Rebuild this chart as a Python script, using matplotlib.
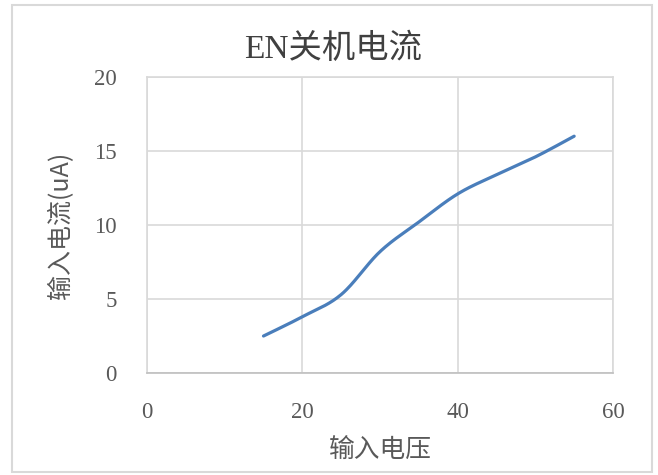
import numpy as np
import matplotlib.pyplot as plt
from matplotlib.patches import Rectangle

# ------------------------ data ------------------------
voltage = [15, 20, 25, 30, 35, 40, 45, 50, 55]
current = [2.5, 3.8, 5.3, 8.2, 10.2, 12.1, 13.4, 14.6, 16.0]

x_ticks = [0, 20, 40, 60]
y_ticks = [0, 5, 10, 15, 20]

title_txt = "EN关机电流"
x_label = "输入电压"
y_label = "输入电流(uA)"


def smooth_line(xs, ys, n=30):
    # Excel style smoothed line (Catmull-Rom through the points)
    xs = np.asarray(xs, float)
    ys = np.asarray(ys, float)
    px = np.concatenate([[xs[0]], xs, [xs[-1]]])
    py = np.concatenate([[ys[0]], ys, [ys[-1]]])
    out_x, out_y = [], []
    t = np.linspace(0, 1, n)
    for i in range(1, len(px) - 2):
        for p, out in ((px, out_x), (py, out_y)):
            p0, p1, p2, p3 = p[i - 1], p[i], p[i + 1], p[i + 2]
            c1 = p1 + (p2 - p0) / 6
            c2 = p2 - (p3 - p1) / 6
            seg = ((1 - t) ** 3 * p1 + 3 * (1 - t) ** 2 * t * c1
                   + 3 * (1 - t) * t ** 2 * c2 + t ** 3 * p2)
            out.extend(seg)
    return np.array(out_x), np.array(out_y)


grey = "#595959"
grid_c = "#d9d9d9"
serif_cjk = ["Liberation Serif", "Noto Sans CJK SC"]

fig = plt.figure(figsize=(6.58, 4.75), dpi=100)
ax = fig.add_axes([0.2234, 0.2147, 0.7082, 0.6232])

sx, sy = smooth_line(voltage, current)
ax.plot(sx, sy, color="#4a7ebb", lw=2.3, solid_capstyle="round", zorder=3)

ax.set_xlim(0, 60)
ax.set_ylim(0, 20)
ax.set_xticks(x_ticks)
ax.set_yticks(y_ticks)
ax.grid(True, color=grid_c, lw=1.2)
for s in ax.spines.values():
    s.set_color(grid_c)
    s.set_linewidth(1.2)
ax.spines["bottom"].set_color("#bfbfbf")
ax.tick_params(length=0, colors=grey, labelsize=16.5, pad=22)
ax.tick_params(axis="x", pad=21)
for lab in ax.get_xticklabels() + ax.get_yticklabels():
    lab.set_family("Liberation Serif")

ax.set_xlabel(x_label, family="Noto Sans CJK SC", fontsize=18.5, color=grey, labelpad=10)
ax.set_ylabel(y_label, family="Noto Sans CJK SC", fontsize=18, color=grey, labelpad=14)
fig.text(0.506, 0.897, title_txt, family=serif_cjk, fontsize=24,
         color="#404040", ha="center", va="center")

# outer chart border
fig.patches.append(Rectangle((12 / 658, 3 / 475), 640 / 658, 467 / 475,
                             transform=fig.transFigure, fill=False,
                             edgecolor=grid_c, lw=1.5))

fig.savefig("out.png", dpi=100)
